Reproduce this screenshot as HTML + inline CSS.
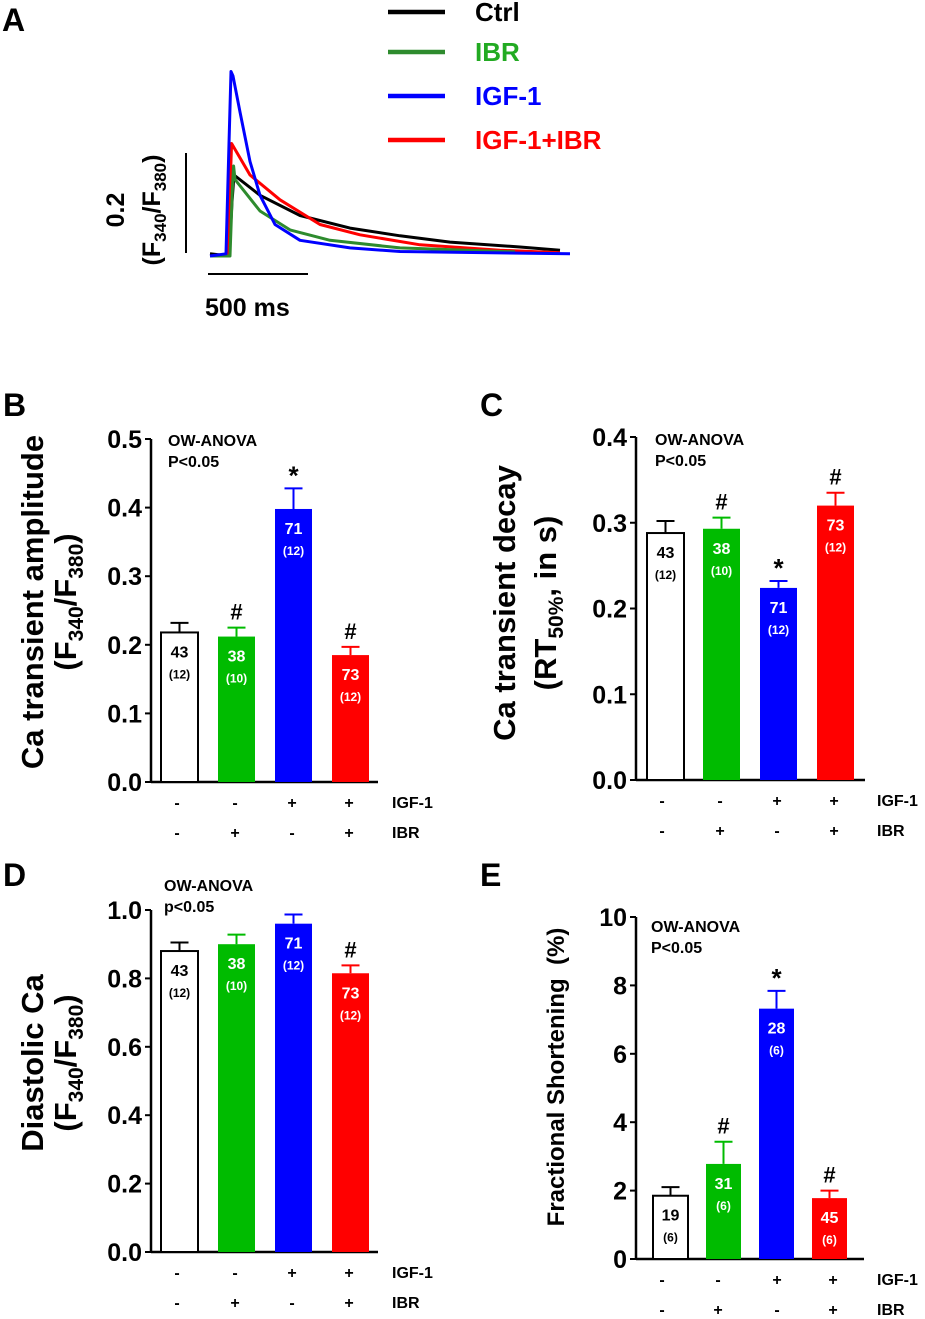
<!DOCTYPE html>
<html><head><meta charset="utf-8"><style>
body{margin:0;background:#fff;}
svg{display:block;font-family:"Liberation Sans",Arial,sans-serif;font-weight:bold;}
</style></head><body>
<svg id="fig" width="925" height="1319" viewBox="0 0 925 1319" xmlns="http://www.w3.org/2000/svg">
<text x="2" y="31" font-size="32">A</text>
<text x="3" y="416" font-size="32">B</text>
<text x="480" y="416" font-size="32">C</text>
<text x="3" y="886" font-size="32">D</text>
<text x="480" y="886" font-size="32">E</text>
<g id="panelA"></g>
<g id="bars"></g>
</svg>
<script>
// ---- Panel A trace data (time ms, ratio above baseline) ----
const traceNames = ["Ctrl","IBR","IGF-1","IGF-1+IBR"];
const traceColors = ["#000000","#2e8b2e","#0000ff","#ff0000"];
const ctrlT = [0,95,110,120,250,450,700,950,1200,1550,1750];
const ctrlV = [0.005,0,0.12,0.18,0.135,0.09,0.062,0.045,0.031,0.02,0.013];
const ibrT = [0,100,112,118,125,250,400,600,950,1525];
const ibrV = [0,0,0.15,0.2,0.17,0.10,0.058,0.035,0.018,0.009];
const igfT = [0,80,95,105,115,150,200,250,325,450,700,950,1800];
const igfV = [0,0.005,0.25,0.41,0.40,0.32,0.21,0.135,0.07,0.035,0.018,0.01,0.005];
const bothT = [0,90,100,108,200,350,550,750,1050,1450,1750];
const bothV = [0,0,0.15,0.25,0.18,0.125,0.07,0.047,0.025,0.013,0.007];

// ---- Bar panel data ----
const groups = ["Ctrl","IBR","IGF-1","IGF-1+IBR"];
const igfRow = ["-","-","+","+"];
const ibrRow = ["-","+","-","+"];
const barColors = ["#ffffff","#00bb00","#0000ff","#ff0000"];
const bVals = [0.218,0.212,0.398,0.185];
const bErr = [0.014,0.013,0.030,0.012];
const bCells = ["43","38","71","73"];
const bN = ["(12)","(10)","(12)","(12)"];
const bSig = ["","#","*","#"];
const bTicks = ["0.0","0.1","0.2","0.3","0.4","0.5"];
const cVals = [0.288,0.293,0.224,0.320];
const cErr = [0.014,0.013,0.008,0.015];
const cSig = ["","#","*","#"];
const cTicks = ["0.0","0.1","0.2","0.3","0.4"];
const dVals = [0.880,0.900,0.960,0.815];
const dErr = [0.025,0.028,0.027,0.023];
const dSig = ["","","","#"];
const dTicks = ["0.0","0.2","0.4","0.6","0.8","1.0"];
const eVals = [1.85,2.78,7.32,1.78];
const eErr = [0.25,0.65,0.52,0.22];
const eCells = ["19","31","28","45"];
const eN = ["(6)","(6)","(6)","(6)"];
const eSig = ["","#","*","#"];
const eTicks = ["0","2","4","6","8","10"];

const NS="http://www.w3.org/2000/svg";
function mk(parent,tag,attrs,txt){const e=document.createElementNS(NS,tag);for(const k in attrs)e.setAttribute(k,attrs[k]);if(txt!==undefined)e.textContent=txt;parent.appendChild(e);return e;}

// Panel A
const gA=document.getElementById('panelA');
const tx=t=>210+t*0.2, ty=v=>256-v*450;
const traceT=[ctrlT,ibrT,igfT,bothT], traceV=[ctrlV,ibrV,igfV,bothV];
const order=[0,3,1,2];
order.forEach(i=>{
  const d=traceT[i].map((t,j)=>(j?'L':'M')+tx(t).toFixed(1)+','+ty(traceV[i][j]).toFixed(1)).join(' ');
  const p=mk(gA,'path',{d:d,fill:'none',stroke:traceColors[i],'stroke-width':3,'stroke-linejoin':'round'});
  
  
});
const legY=[12,52,96,140];
traceNames.forEach((n,i)=>{
  const l=mk(gA,'line',{x1:388,x2:445,y1:legY[i],y2:legY[i],stroke:traceColors[i],'stroke-width':4.5});
  
  
  const t=mk(gA,'text',{x:475,y:legY[i]+9,'font-size':26,fill:i==1?'#22aa22':traceColors[i]},n);
  
  
});
let sb=mk(gA,'line',{x1:186,x2:186,y1:153,y2:253,stroke:'#000','stroke-width':2});


sb=mk(gA,'line',{x1:208,x2:308,y1:274,y2:274,stroke:'#000','stroke-width':2});


let st=mk(gA,'text',{x:205,y:316,'font-size':25},'500 ms');


st=mk(gA,'text',{transform:'translate(124,210) rotate(-90)','text-anchor':'middle','font-size':25},'0.2');


st=mk(gA,'text',{transform:'translate(160,210) rotate(-90)','text-anchor':'middle','font-size':25});


st.innerHTML='(F<tspan font-size="17" dy="6">340</tspan><tspan dy="-6">/F</tspan><tspan font-size="17" dy="6">380</tspan><tspan dy="-6">)</tspan>';

// Bar panels
const gB=document.getElementById('bars');
function panel(o){
  const g=mk(gB,'g',{});
  
  
  const y=v=>o.y0-(v/o.max)*(o.y0-o.yTop);
  let a=mk(g,'line',{x1:o.ax,x2:o.ax,y1:o.yTop,y2:o.y0+1,stroke:'#000','stroke-width':2.5});
  
  
  a=mk(g,'line',{x1:o.ax,x2:o.axEnd,y1:o.y0,y2:o.y0,stroke:'#000','stroke-width':2.5});
  
  
  o.ticks.forEach((tk,i)=>{
    const v=o.max*i/(o.ticks.length-1), yy=y(v);
    const l=mk(g,'line',{x1:o.ax-6,x2:o.ax,y1:yy,y2:yy,stroke:'#000','stroke-width':2});
    
    
    const t=mk(g,'text',{x:o.ax-9,y:yy+9,'text-anchor':'end','font-size':25},tk);
    
    
  });
  o.vals.forEach((v,i)=>{
    const x0=o.bx[i], w=o.bw, top=y(v), cx=x0+w/2;
    const r=mk(g,'rect',{x:x0,y:top,width:w,height:o.y0-top,fill:barColors[i],stroke:i==0?'#000':barColors[i],'stroke-width':i==0?2:0});
    
    
    const et=y(v+o.err[i]);
    const ec=i==0?'#000':barColors[i];
    const e=mk(g,'path',{d:`M${cx},${top} L${cx},${et} M${cx-9},${et} L${cx+9},${et}`,stroke:ec,'stroke-width':2,fill:'none'});
    
    
    if(o.sig[i]){
      const s=mk(g,'text',{x:cx,y:et-(o.sig[i]=='*'?4:8),'text-anchor':'middle','font-size':o.sig[i]=='*'?26:22},o.sig[i]);
      
      
    }
    const fc=i==0?'#000':'#fff';
    const c=mk(g,'text',{x:cx,y:top+25,'text-anchor':'middle','font-size':16,fill:fc},o.cells[i]);
    
    
    const n=mk(g,'text',{x:cx,y:top+46,'text-anchor':'middle','font-size':12,fill:fc},o.n[i]);
    
    
    const r1=mk(g,'text',{x:o.lx[i],y:o.y0+26,'text-anchor':'middle','font-size':16},igfRow[i]);
    
    
    const r2=mk(g,'text',{x:o.lx[i],y:o.y0+56,'text-anchor':'middle','font-size':16},ibrRow[i]);
    
    
  });
  let t=mk(g,'text',{x:o.rowX,y:o.y0+26,'font-size':16},'IGF-1');
  
  
  t=mk(g,'text',{x:o.rowX,y:o.y0+56,'font-size':16},'IBR');
  
  
  t=mk(g,'text',{x:o.annX,y:o.annY,'font-size':16},'OW-ANOVA');
  
  
  t=mk(g,'text',{x:o.annX,y:o.annY+21,'font-size':16},o.p);
  
  
  o.titles.forEach((tt,k)=>{
    const tl=mk(g,'text',{transform:`translate(${tt[0]},${tt[1]}) rotate(-90)`,'text-anchor':'middle','font-size':tt[3]});
    
    
    tl.innerHTML=tt[2];
  });
}
const fUnit='(F<tspan font-size="21" dy="7">340</tspan><tspan dy="-7">/F</tspan><tspan font-size="21" dy="7">380</tspan><tspan dy="-7">)</tspan>';
panel({name:'panel-b-amplitude',ax:151,axEnd:378,y0:782,yTop:439,max:0.5,ticks:bTicks,vals:bVals,err:bErr,sig:bSig,cells:bCells,n:bN,
  bx:[161,218,275,332],bw:37,lx:[177,235,292,349],rowX:392,annX:168,annY:446,p:'P<0.05',
  titles:[[43,602,'Ca transient amplitude',31],[76,602,fUnit,31]]});
panel({name:'panel-c-decay',ax:636,axEnd:865,y0:780,yTop:437,max:0.4,ticks:cTicks,vals:cVals,err:cErr,sig:cSig,cells:bCells,n:bN,
  bx:[647,703,760,817],bw:37,lx:[662,720,777,834],rowX:877,annX:655,annY:445,p:'P<0.05',
  titles:[[515,603,'Ca transient decay',31],[556,603,'(RT<tspan font-size="21" dy="7">50%</tspan><tspan dy="-7">, in s)</tspan>',31]]});
panel({name:'panel-d-diastolic',ax:151,axEnd:378,y0:1252,yTop:910,max:1.0,ticks:dTicks,vals:dVals,err:dErr,sig:dSig,cells:bCells,n:bN,
  bx:[161,218,275,332],bw:37,lx:[177,235,292,349],rowX:392,annX:164,annY:891,p:'p<0.05',
  titles:[[43,1063,'Diastolic Ca',31],[76,1063,fUnit,31]]});
panel({name:'panel-e-shortening',ax:636,axEnd:864,y0:1259,yTop:917,max:10,ticks:eTicks,vals:eVals,err:eErr,sig:eSig,cells:eCells,n:eN,
  bx:[653,706,759,812],bw:35,lx:[662,718,777,833],rowX:877,annX:651,annY:932,p:'P<0.05',
  titles:[[564,1077,'Fractional Shortening &#160;(%)',24]]});
</script>
</body></html>
